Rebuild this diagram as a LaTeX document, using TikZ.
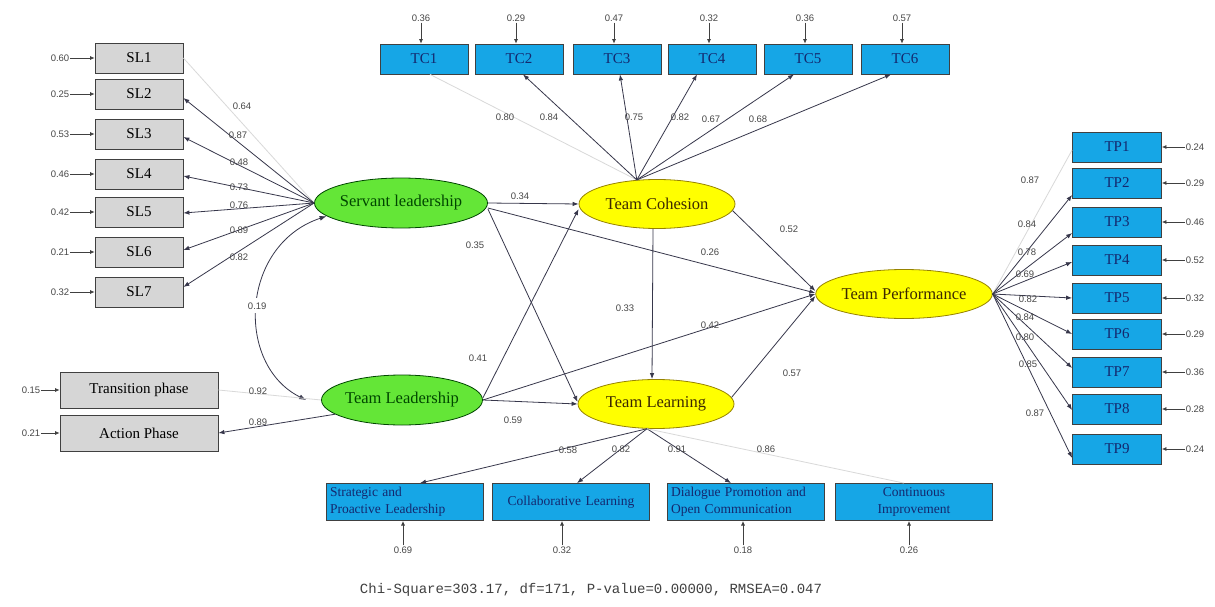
\documentclass[tikz,border=0pt]{standalone}
\usepackage{fontspec}
\setmainfont{Liberation Serif}
\newfontfamily\numfont{Liberation Sans}
\newfontfamily\chifont{Liberation Mono}
\usetikzlibrary{arrows.meta,shapes.geometric}
\definecolor{slgray}{RGB}{214,214,214}
\definecolor{skyb}{RGB}{22,166,230}
\definecolor{navyt}{RGB}{20,40,110}
\definecolor{lgreen}{RGB}{100,230,55}
\definecolor{dgreen}{RGB}{0,70,0}
\definecolor{yel}{RGB}{255,255,0}
\definecolor{yelb}{RGB}{150,130,0}
\definecolor{browntext}{RGB}{60,40,0}
\definecolor{linec}{RGB}{55,55,75}
\tikzset{
 base/.style={draw=black!75, line width=0.8pt, inner sep=0pt, align=center},
 slbox/.style={base, fill=slgray, minimum width=88pt, minimum height=30pt, font=\fontsize{15}{17}\selectfont},
 gbox/.style={base, fill=slgray, minimum width=158pt, minimum height=36pt, font=\fontsize{15}{17}\selectfont},
 bbox/.style={base, fill=skyb, text=navyt, minimum width=88pt, minimum height=30pt, font=\fontsize{15}{17}\selectfont},
 wbox/.style={base, fill=skyb, text=navyt, minimum width=157pt, minimum height=37pt, text width=150pt, font=\fontsize{13.5}{17}\selectfont},
 glat/.style={ellipse, draw=dgreen, line width=0.8pt, fill=lgreen, text=dgreen, minimum width=160pt, minimum height=50pt, inner sep=0pt, font=\fontsize{16.5}{18}\selectfont},
 ylat/.style={ellipse, draw=yelb, line width=0.8pt, fill=yel, text=browntext, minimum width=156pt, minimum height=49pt, inner sep=0pt, font=\fontsize{16.5}{18}\selectfont},
 num/.style={font=\numfont\fontsize{9.5}{10}\selectfont, text=black!72, inner sep=1pt},
 lnk/.style={draw=linec, line width=0.8pt, -{Latex[length=6pt,width=4.5pt]}},
 faint/.style={draw=black!15, line width=0.8pt},
 err/.style={draw=black!75, line width=0.7pt, -{Latex[length=4.5pt,width=4pt]}},
 cov/.style={draw=linec, line width=0.8pt, {Latex[length=7pt,width=5pt]}-{Latex[length=7pt,width=5pt]}},
}
\begin{document}
\begin{tikzpicture}[x=1pt,y=-1pt]
\useasboundingbox[fill=white] (0,0) rectangle (1215,607);

% latent variables
\node[glat] (serv) at (401,203) {Servant leadership};
\node[glat] (tl) at (402,400) {Team Leadership};
\node[ylat] (tc) at (657,204) {Team Cohesion};
\node[ylat] (tln) at (656,404) {Team Learning};
\node[ylat] (tp) at (904,294) {Team Performance};

% SL indicators
\foreach \i/\y/\e in {1/58/0.60,2/94/0.25,3/134/0.53,4/174/0.46,5/212/0.42,6/252/0.21,7/292/0.32}{
  \node[slbox] (sl\i) at (139,\y) {SL\i};
  \node[num] (esl\i) at (60,\y) {\e};
  \draw[err] (esl\i) -- (sl\i);
}
\draw[faint] (serv.west) -- (sl1.east);
\foreach \i/\d in {2/-4,3/-3,4/-2,5/-1,6/2,7/5}{
  \draw[lnk] (serv.west) -- ([yshift=\d pt]sl\i.east);
}
\foreach \x/\y/\v in {242/106/0.64,238/135/0.87,239/162/0.48,239/187/0.73,239/205/0.76,239/230/0.89,239/257/0.82}{
  \node[num] at (\x,\y) {\v};
}

% covariance
\draw[cov] (serv.190) .. controls (240,245) and (235,365) .. node[num, fill=white, inner sep=4pt, pos=0.5] (c19) {0.19} ([xshift=-15pt]tl.west);

% Team Leadership indicators
\node[gbox] (trans) at (139,390) {Transition phase};
\node[gbox] (act) at (139,433) {Action Phase};
\node[num] (etrans) at (31,390) {0.15};
\node[num] (eact) at (31,433) {0.21};
\draw[err] (etrans) -- (trans);
\draw[err] (eact) -- (act);
\draw[faint] (tl.west) -- (trans.east);
\draw[lnk] (tl.192) -- (act.east);
\node[num] at (258,391) {0.92};
\node[num] at (258,422) {0.89};

% TC indicators
\foreach \i/\x/\e in {1/424/0.36,2/519/0.29,3/617/0.47,4/712/0.32,5/808/0.36,6/905/0.57}{
  \node[bbox] (tcb\i) at (\x,59) {TC\i};
  \node[num] (etc\i) at (\x-3,18) {\e};
  \draw[err] (etc\i) -- ([xshift=-3pt]tcb\i.north);
}
\draw[faint] (tc.130) -- ([xshift=6pt]tcb1.south);
\foreach \i/\d in {2/4,3/3,4/-15,5/-14,6/-14}{
  \draw[lnk] (tc.130) -- ([xshift=\d pt]tcb\i.south);
}
\foreach \x/\y/\v in {505/117/0.80,549/117/0.84,634/117/0.75,680/117/0.82,711/119/0.67,758/119/0.68}{
  \node[num] at (\x,\y) {\v};
}

% TP indicators
\foreach \i/\y/\e in {1/147/0.24,2/183/0.29,3/222/0.46,4/260/0.52,5/298/0.32,6/334/0.29,7/372/0.36,8/409/0.28,9/449/0.24}{
  \node[bbox, minimum width=89pt] (tpb\i) at (1117,\y) {TP\i};
  \node[num] (etp\i) at (1195,\y) {\e};
  \draw[err] (etp\i) -- (tpb\i);
}
\draw[faint] (tp.east) -- ([yshift=-3pt]tpb1.west);
\foreach \i/\d in {2/-12,3/-11,4/-2,5/0,6/0,7/4,8/-1,9/-9}{
  \draw[lnk] (tp.east) -- ([yshift=\d pt]tpb\i.west);
}
\foreach \x/\y/\v in {1030/180/0.87,1027/224/0.84,1027/252/0.78,1025/274/0.69,1028/299/0.82,1025/317/0.84,1025/337/0.80,1028/364/0.85,1035/413/0.87}{
  \node[num] at (\x,\y) {\v};
}

% Team Learning indicators
\node[wbox, align=left] (b1) at (405,502) {Strategic and\\Proactive Leadership};
\node[wbox] (b2) at (571,502) {Collaborative Learning};
\node[wbox, align=left] (b3) at (746,502) {Dialogue Promotion and\\Open Communication};
\node[wbox] (b4) at (914,502) {Continuous\\Improvement};
\foreach \i/\x/\e in {1/403/0.69,2/562/0.32,3/743/0.18,4/909/0.26}{
  \node[num] (eb\i) at (\x,550) {\e};
  \draw[err] (eb\i) -- (\x,521);
}
\draw[lnk] (tln.250) -- ([xshift=15pt]b1.north);
\draw[lnk] (tln.250) -- ([xshift=6pt]b2.north);
\draw[lnk] (tln.250) -- ([xshift=-15pt]b3.north);
\draw[faint] (tln.250) -- ([xshift=-10pt]b4.north);
\foreach \x/\y/\v in {568/450/0.58,621/449/0.82,677/449/0.91,766/449/0.86}{
  \node[num] at (\x,\y) {\v};
}

% structural paths
\draw[lnk] (serv.east) -- (tc.west);
\draw[lnk] ([yshift=-6pt]serv.east) -- ([yshift=2pt]tln.west);
\draw[lnk] ([yshift=-5pt]serv.east) -- ([yshift=1pt]tp.west);
\draw[lnk] ([yshift=2pt]tl.east) -- ([yshift=-5pt]tc.west);
\draw[lnk] (tl.east) -- (tp.west);
\draw[lnk] (tl.east) -- (tln.west);
\draw[lnk] ([xshift=-4pt]tc.south) -- ([xshift=-4pt]tln.north);
\draw[lnk] (tc.355) -- ([yshift=3pt]tp.west);
\draw[lnk] (tln.5) -- ([yshift=-2pt]tp.west);
\node[num] at (520,196) {0.34};
\node[num] at (475,245) {0.35};
\node[num] at (710,252) {0.26};
\node[num] at (478,358) {0.41};
\node[num] at (710,325) {0.42};
\node[num] at (513,420) {0.59};
\node[num] at (625,308) {0.33};
\node[num] at (789,229) {0.52};
\node[num] at (792,373) {0.57};

% fit statistics
\node[font=\chifont\fontsize{14}{16}\selectfont, text=black!75] (fit) at (591,590) {Chi-Square=303.17, df=171, P-value=0.00000, RMSEA=0.047};
\end{tikzpicture}
\end{document}
